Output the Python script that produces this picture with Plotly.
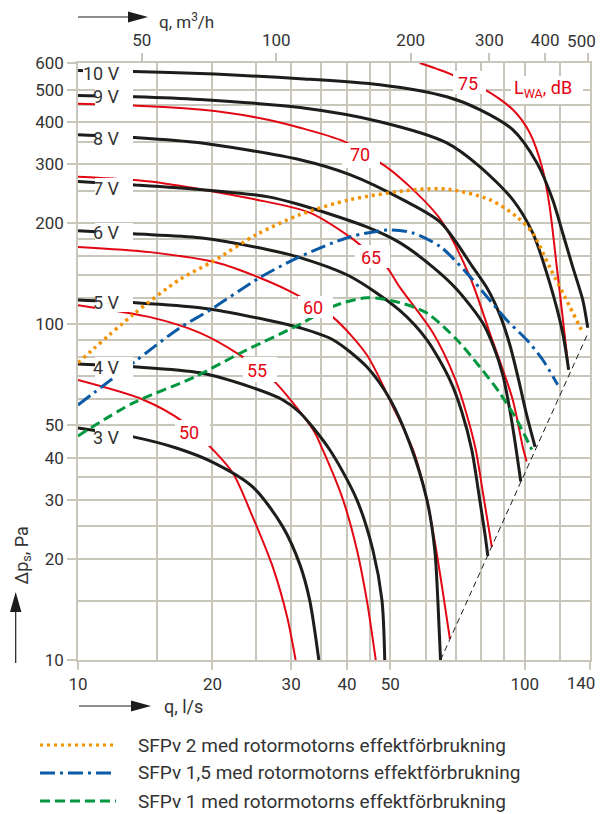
import numpy as np
import plotly.graph_objects as go

# ---------------- data ----------------
# fan curves, q in l/s, dp in Pa
v10_q = [10, 13.3, 18.75, 31.4, 47.4, 66.9, 79.3, 94, 106.4, 115.5, 121.6, 128.1, 134.9, 138.4]
v10_p = [570, 566, 558, 539, 517, 476, 436, 380, 303, 235, 187, 148, 118, 97.6]
v9_q = [10, 13.4, 18.75, 31.4, 47.4, 66.9, 79.3, 94, 104.2, 113.7, 121.6, 125.4]
v9_p = [480, 476, 467, 442, 401, 347, 295, 235, 187, 133, 94.3, 73.2]
v8_q = [10, 13.4, 18.75, 31.4, 40.6, 53.3, 64.8, 76.5, 82.7, 87.9, 92.6, 96.9, 101, 105.5]
v8_p = [367, 360, 347, 309, 279, 235, 201, 148, 127, 107, 86.9, 68.3, 53.7, 43.1]
v7_q = [10, 13.4, 18.75, 26.5, 31.4, 44.3, 52.5, 62.3, 70.5, 80.5, 85.2, 89.3, 92.6, 95.5, 98.0]
v7_p = [266, 260, 252, 240, 227, 195, 175, 148, 127, 101, 85.7, 70.7, 55.6, 43.1, 34.0]
v6_q = [10, 13.3, 18.75, 26.5, 31.4, 40.6, 52.5, 60.4, 68.0, 72.3, 76.1, 79.3, 81.4, 82.7]
v6_p = [190, 186, 181, 167, 158, 139, 110, 89.9, 68.3, 54.9, 42.3, 30, 23.9, 20.4]
v5_q = [10, 13.3, 18.75, 26.5, 31.4, 37.2, 44.3, 50, 55.2, 60.4, 62.9, 63.9, 64.8]
v5_p = [118, 116, 112, 103, 97.6, 89.9, 74.7, 59.6, 44.4, 30, 21.3, 15.1, 10]
v4_q = [10, 13.3, 18.75, 24.3, 28.7, 31.4, 36.6, 42.1, 45.7, 47.9, 48.6]
v4_p = [76.2, 74.7, 71.7, 65.1, 59.6, 54.5, 42.3, 30, 21.3, 15.1, 10]
v3_q = [10, 13.3, 16.6, 20.05, 24.6, 28.7, 31.4, 33.0, 34.6]
v3_p = [49.1, 46.2, 42.8, 38.8, 32.8, 25, 19.2, 15.1, 10]
fan_labels = ["10 V", "9 V", "8 V", "7 V", "6 V", "5 V", "4 V", "3 V"]

# sound power curves L_WA, dB
db50_q = [10, 14.0, 17.2, 20.05, 22.2, 24.6, 27.3, 29.4, 30.7]
db50_p = [68.2, 59.6, 51.2, 42.3, 36.1, 26.7, 18.9, 13.4, 10]
db55_q = [10, 14.5, 18.75, 23.0, 27.3, 33.6, 35.3, 39.2, 42.1, 44.3, 46.4]
db55_p = [114, 105, 94.3, 81.1, 68.3, 48.5, 42.3, 30, 21.3, 15.1, 10]
db60_q = [10, 14.5, 20.5, 25.5, 30.3, 37.2, 44.3, 50.7, 56.2, 60.4, 62.9, 65.5, 68.0]
db60_p = [170, 164, 152.5, 137.6, 124, 105, 81.1, 56.8, 42.3, 30, 22.5, 16.1, 11.55]
db65_q = [10, 14.5, 25.1, 33, 40.6, 45.5, 49.1, 52.5, 62.3, 70.0, 74.2, 77.7, 80.9, 84.4]
db65_p = [275, 266, 235, 215, 182, 161, 148, 129, 94.3, 68.3, 53.7, 42.3, 30.6, 21.7]
db70_q = [10, 13.3, 18.75, 25.1, 31.4, 40, 42.7, 47.4, 55.3, 64.8, 75.3, 83.5, 94, 99, 101]
db70_p = [454, 448, 436, 413, 385, 347, 320, 303, 257, 205, 139, 94.3, 59.6, 43.1, 39.0]
db75_q = [58.2, 68.7, 73.4, 81.4, 94, 102.6, 109.7, 113.7, 118, 121.6, 125.4]
db75_p = [600, 554, 525, 500, 436, 372, 289, 224, 148, 105, 73.2]
db_labels = ["50", "55", "60", "65", "70", "75"]

# SFPv curves
sfp2_q = [10, 13.3, 16.9, 20.05, 25.1, 31.4, 40.6, 57.3, 68.0, 83.5, 96, 104.2, 113.7, 126.1, 134.9]
sfp2_p = [76.8, 107, 136, 154, 185, 212, 235, 252, 252, 235, 209, 187, 148, 113, 94.3]
sfp15_q = [10, 13.3, 16.9, 19.7, 25.5, 31.4, 40.6, 50, 56.2, 64.8, 74.2, 82.2, 91.1, 101, 109.7, 118.5]
sfp15_p = [57.5, 76.8, 97.6, 110, 137.6, 159, 182, 191, 187, 170, 142, 121, 103, 89.9, 78.4, 66]
sfp1_q = [10, 13.3, 18.1, 23.4, 31.4, 37.2, 44.3, 52.5, 60.4, 70.5, 79.3, 87.9, 96, 103.7]
sfp1_p = [46.5, 58.3, 69.3, 82.8, 100, 113, 120, 116, 108, 89.9, 74.7, 62.5, 51.9, 42.3]
legend_texts = ["SFPv 2 med rotormotorns effektförbrukning",
                "SFPv 1,5 med rotormotorns effektförbrukning",
                "SFPv 1 med rotormotorns effektförbrukning"]

# working-range limit (thin dashed)
limit_q = [64.8, 139]
limit_p = [10, 95]

# axes ticks
x_ticks = [10, 20, 30, 40, 50, 100, 140]
x_minor = [15, 25, 35, 45, 60, 70, 80, 90, 120]
top_ticks = [50, 100, 200, 300, 400, 500]
y_ticks = [10, 20, 30, 40, 50, 100, 200, 300, 400, 500, 600]
y_minor = [15, 25, 35, 60, 70, 80, 90, 120, 140, 160, 180, 250, 350, 450]

# ---------------- style ----------------
GRID = "#c9c7bc"
BLACK = "#1d1d1b"
RED = "#e30613"
ORANGE = "#f39200"
BLUE = "#0a5aa5"
GREEN = "#00973f"
TEXT = "#333333"
FONT = "Roboto"

# page offset (body margin) compensation
OFF = 8
W, H = 605 - OFF, 814 - OFF
# plot area edges in page pixels
L, R, T, B = 78, 590, 63, 660


def px(x):
    return (x - L) / (R - L)


def py(y):
    return (B - y) / (B - T)


fig = go.Figure()


def add_line(q, p, color, width, dash="solid"):
    fig.add_trace(go.Scatter(x=q, y=p, mode="lines",
                             line=dict(color=color, width=width, dash=dash,
                                       shape="spline", smoothing=0.8),
                             hoverinfo="skip", showlegend=False))


for q, p in [(db50_q, db50_p), (db55_q, db55_p), (db60_q, db60_p),
             (db65_q, db65_p), (db70_q, db70_p), (db75_q, db75_p)]:
    add_line(q, p, RED, 2)

for q, p in [(v10_q, v10_p), (v9_q, v9_p), (v8_q, v8_p), (v7_q, v7_p),
             (v6_q, v6_p), (v5_q, v5_p), (v4_q, v4_p), (v3_q, v3_p)]:
    add_line(q, p, BLACK, 3)

add_line(sfp2_q, sfp2_p, ORANGE, 3.5, "3px,4px")
add_line(sfp15_q, sfp15_p, BLUE, 3, "15px,5px,3px,5px")
add_line(sfp1_q, sfp1_p, GREEN, 3, "10px,5px")
fig.add_trace(go.Scatter(x=limit_q, y=limit_p, mode="lines",
                         line=dict(color=BLACK, width=1, dash="6px,4px"),
                         hoverinfo="skip", showlegend=False))

# invisible traces to bind the extra x axes
for ax in ["x2", "x3", "x4"]:
    fig.add_trace(go.Scatter(x=[100], y=[100], xaxis=ax, mode="markers",
                             marker=dict(opacity=0), hoverinfo="skip", showlegend=False))

shapes = []
annotations = []

# fan labels with white boxes
fan_label_y = [73, 97, 138, 188, 233, 302, 367, 437]
for txt, yy in zip(fan_labels, fan_label_y):
    left = 83 if len(txt) > 3 else 95
    shapes.append(dict(type="rect", xref="paper", yref="paper",
                       x0=px(left), x1=px(133), y0=py(yy + 10), y1=py(yy - 10),
                       fillcolor="white", line=dict(width=0), layer="above"))
    annotations.append(dict(xref="paper", yref="paper", x=px(122), y=py(yy),
                            xanchor="right", yanchor="middle", text=txt, showarrow=False,
                            font=dict(size=18, color=TEXT, family=FONT)))

# dB labels
db_boxes = [(189, 433, 175, 210, 420, 446), (257, 370, 243, 277, 357, 382),
            (313, 307, 298, 333, 296, 318), (371, 257, 355, 390, 245, 268),
            (360, 155, 342, 380, 143, 168), (468, 83, 453, 486, 71, 94)]
for txt, (cx, cy, x0, x1, y0, y1) in zip(db_labels, db_boxes):
    shapes.append(dict(type="rect", xref="paper", yref="paper",
                       x0=px(x0), x1=px(x1), y0=py(y1), y1=py(y0),
                       fillcolor="white", line=dict(width=0), layer="above"))
    annotations.append(dict(xref="paper", yref="paper", x=px(cx), y=py(cy),
                            xanchor="center", yanchor="middle", text=txt, showarrow=False,
                            font=dict(size=18, color=RED, family=FONT)))
shapes.append(dict(type="rect", xref="paper", yref="paper",
                   x0=px(511), x1=px(583), y0=py(104), y1=py(76),
                   fillcolor="white", line=dict(width=0), layer="above"))
annotations.append(dict(xref="paper", yref="paper", x=px(543), y=py(89),
                        xanchor="center", yanchor="middle", text="L<sub>WA</sub>, dB",
                        showarrow=False, font=dict(size=18, color=RED, family=FONT)))


# axis titles with arrows
def arrow_h(x0, x1, y, tip):
    shapes.append(dict(type="line", xref="paper", yref="paper",
                       x0=px(x0), x1=px(x1), y0=py(y), y1=py(y),
                       line=dict(color=BLACK, width=1.2)))
    shapes.append(dict(type="path", xref="paper", yref="paper",
                       path=f"M {px(x1 - 2)},{py(y - 5.5)} L {px(tip)},{py(y)} L {px(x1 - 2)},{py(y + 5.5)} Z",
                       fillcolor=BLACK, line=dict(width=0)))


arrow_h(78, 130, 17, 148)
arrow_h(79, 133, 706, 151)
shapes.append(dict(type="line", xref="paper", yref="paper",
                   x0=px(15.7), x1=px(15.7), y0=py(663), y1=py(610),
                   line=dict(color=BLACK, width=1.2)))
shapes.append(dict(type="path", xref="paper", yref="paper",
                   path=f"M {px(10)},{py(612)} L {px(15.7)},{py(592)} L {px(21.4)},{py(612)} Z",
                   fillcolor=BLACK, line=dict(width=0)))

annotations.append(dict(xref="paper", yref="paper", x=px(157), y=py(8.5),
                        xanchor="left", yanchor="top", text="q, m<sup>3</sup>/h",
                        showarrow=False, font=dict(size=17, color=TEXT, family=FONT)))
annotations.append(dict(xref="paper", yref="paper", x=px(162), y=py(706),
                        xanchor="left", yanchor="middle", text="q, l/s",
                        showarrow=False, font=dict(size=18, color=TEXT, family=FONT)))
annotations.append(dict(xref="paper", yref="paper", x=px(8.5), y=py(556),
                        xanchor="left", yanchor="middle", text="Δp<sub>s</sub>, Pa",
                        textangle=-90, showarrow=False,
                        font=dict(size=18, color=TEXT, family=FONT)))

# legend
legend_rows = [(745, ORANGE, "3px,4px"), (773, BLUE, "15px,5px,3px,5px"), (801, GREEN, "10px,5px")]
for txt, (yy, col, dsh) in zip(legend_texts, legend_rows):
    shapes.append(dict(type="line", xref="paper", yref="paper",
                       x0=px(40), x1=px(116), y0=py(yy), y1=py(yy),
                       line=dict(color=col, width=3, dash=dsh)))
    annotations.append(dict(xref="paper", yref="paper", x=px(136), y=py(yy),
                            xanchor="left", yanchor="middle", text=txt,
                            showarrow=False, font=dict(size=19, color=TEXT, family=FONT)))

axis_common = dict(tickwidth=1.5, tickcolor=GRID, automargin=False,
                   linecolor=GRID, linewidth=1.5, zeroline=False,
                   tickfont=dict(size=17, color=TEXT, family=FONT), fixedrange=True)

x_ticktext = [str(v) if v != x_ticks[-1] else "" for v in x_ticks]
top_ticktext = [str(v) if v != top_ticks[-1] else "" for v in top_ticks]

fig.update_layout(
    width=W, height=H, autosize=False,
    margin=dict(l=L - OFF, r=(605 - R), t=T - OFF, b=(814 - B), pad=0, autoexpand=False),
    paper_bgcolor="white", plot_bgcolor="white",
    font=dict(family=FONT, size=17, color=TEXT),
    showlegend=False,
    xaxis=dict(type="log", range=[1, np.log10(140)], tickvals=x_ticks,
               ticktext=x_ticktext, ticks="outside", ticklen=8, showline=True,
               showgrid=True, gridcolor=GRID, gridwidth=1.5,
               minor=dict(tickvals=x_minor, showgrid=True, gridcolor=GRID, gridwidth=1.5, ticks=""),
               **axis_common),
    # last bottom label, nudged left so it stays inside the page
    xaxis3=dict(type="log", overlaying="x", side="bottom", anchor="y",
                range=[1, np.log10(140)], tickvals=[x_ticks[-1]], ticktext=[str(x_ticks[-1])],
                ticks="outside", ticklen=8, showline=False, showgrid=False,
                ticklabelshift=-9, **axis_common),
    xaxis2=dict(type="log", overlaying="x", side="top", anchor="y",
                range=[np.log10(36), np.log10(504)], tickvals=top_ticks,
                ticktext=top_ticktext, ticks="outside", ticklen=8, showline=True, showgrid=False,
                **axis_common),
    xaxis4=dict(type="log", overlaying="x", side="top", anchor="y",
                range=[np.log10(36), np.log10(504)], tickvals=[top_ticks[-1]],
                ticktext=[str(top_ticks[-1])], ticks="outside", ticklen=8,
                showline=False, showgrid=False, ticklabelshift=-7, **axis_common),
    yaxis=dict(type="log", range=[1, np.log10(600)], tickvals=y_ticks,
               ticktext=[str(v) for v in y_ticks], ticks="outside", ticklen=9,
               showline=True, mirror=True,
               showgrid=True, gridcolor=GRID, gridwidth=1.5,
               minor=dict(tickvals=y_minor, showgrid=True, gridcolor=GRID, gridwidth=1.5, ticks=""),
               **axis_common),
    shapes=shapes,
    annotations=annotations,
)

fig.write_html("out.html")
